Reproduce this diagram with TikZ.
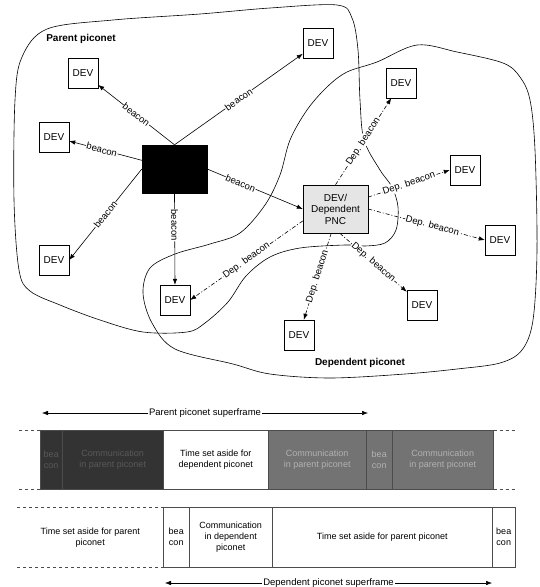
\documentclass[tikz,border=0pt]{standalone}
\usepackage{fontspec}
\setmainfont{Liberation Sans}
\usetikzlibrary{arrows.meta}

\begin{document}
\begin{tikzpicture}[
  x=1pt, y=-1pt,
  font=\fontsize{9.5}{11}\selectfont,
  >={Latex[length=6pt,width=4.5pt]},
  dev/.style={draw, minimum width=30pt, minimum height=30pt, inner sep=0pt,
              fill=white, font=\fontsize{10}{12}\selectfont},
  pncbox/.style={draw, minimum width=65pt, minimum height=48pt, inner sep=1pt,
              align=center, font=\fontsize{10}{11.5}\selectfont},
  bcn/.style={->, line width=0.6pt},
  depb/.style={->, line width=0.6pt, dash pattern=on 4pt off 2pt on 1pt off 2pt},
  lbl/.style={sloped, fill=white, inner sep=0.6pt},
  blob/.style={line width=0.6pt},
  netname/.style={font=\fontsize{10}{12}\selectfont\bfseries},
  slot/.style={draw=black!70, line width=0.5pt, minimum height=59pt, inner sep=1pt,
               align=center, anchor=north west, font=\fontsize{9}{11}\selectfont},
  dslot/.style={slot, fill=black!80, text=black!65},
  gslot/.style={slot, fill=black!55, text=black!30},
  ext/.style={dashed, black!70, line width=0.5pt},
]
\useasboundingbox (0,0) rectangle (540,587);

% ── piconet outlines ──
\draw[blob] plot[smooth cycle, tension=0.55] coordinates {
  (47,29) (113,20) (200,14) (270,8) (337,5) (352,18) (358,50) (360,100)
  (364,140) (380,170) (392,187) (398,207) (396,230) (385,243) (365,246)
  (345,245) (300,248) (270,257) (246,276) (228,302) (205,323) (187,332)
  (143,332) (100,320) (60,305) (30,291) (19,270) (14,200) (15,100) (22,57)};
\draw[blob] plot[smooth cycle, tension=0.55] coordinates {
  (307,110) (327,87) (347,72) (377,62) (417,45) (457,52) (503,63) (520,77)
  (530,100) (535,150) (537,250) (533,320) (522,350) (500,363) (457,369)
  (405,374) (330,378) (270,374) (233,364) (175,349) (152,323) (143,293)
  (150,268) (175,254) (210,244) (240,233) (265,205) (280,175) (290,140)};

\node[netname] (parentname) at (81,39) {Parent piconet};
\node[netname] (depname) at (360,363) {Dependent piconet};

% ── parent piconet ──
\node[pncbox, fill=black] (ppnc) at (174.5,169) {};
\node[dev] (devtl) at (83,73)  {DEV};
\node[dev] (devl)  at (54,137) {DEV};
\node[dev] (devbl) at (54,260) {DEV};
\node[dev] (devtr) at (318,43) {DEV};
\node[dev] (devmid) at (175,300) {DEV};

% ── dependent piconet ──
\node[pncbox, fill=black!10] (dpnc) at (335.5,209) {DEV/\\Dependent\\PNC};
\node[dev] (ddev1) at (401,83)  {DEV};
\node[dev] (ddev2) at (465,170) {DEV};
\node[dev] (ddev3) at (500,240) {DEV};
\node[dev] (ddev4) at (422,305) {DEV};
\node[dev] (ddev5) at (299,335) {DEV};

% ── beacons ──
\draw[bcn] (ppnc.north) -- node[lbl] {beacon} (devtl);
\draw[bcn] (ppnc) -- node[lbl, pos=.55] {beacon} (devl);
\draw[bcn] (ppnc.west) -- node[lbl] {beacon} (devbl.east);
\draw[bcn] (ppnc.north) -- node[lbl] {beacon} (devtr);
\draw[bcn] (ppnc.south) -- node[lbl, pos=.35] {beacon} (devmid.north);
\draw[bcn] (ppnc.east) -- node[lbl, pos=.35] {beacon} (dpnc.west);

\draw[depb] (dpnc.north) -- node[lbl] {Dep. beacon} (ddev1);
\draw[depb] (dpnc.20) -- node[lbl] {Dep. beacon} (ddev2.west);
\draw[depb] (dpnc.east) -- node[lbl, pos=.55] {Dep. beacon} (ddev3.west);
\draw[depb] (dpnc.-80) -- node[lbl] {Dep. beacon} (ddev4);
\draw[depb] (dpnc.-100) -- node[lbl] {Dep. beacon} (ddev5);
\draw[depb] (dpnc.200) -- node[lbl] {Dep. beacon} (devmid.east);

% ── parent superframe ──
\coordinate (psl) at (42,413);
\coordinate (psr) at (368,413);
\draw[<->, line width=0.5pt] (psl) -- (psr)
  node[midway, fill=white, inner sep=1pt] (pslabel) {Parent piconet superframe};

\node[dslot, minimum width=22pt]  (pb1) at (40,430)  {bea\\con};
\node[dslot, minimum width=101pt] (pc1) at (62,430)  {Communication\\in parent piconet};
\node[slot, minimum width=105pt]  (pt1) at (163,430) {Time set aside for\\dependent piconet};
\node[gslot, minimum width=98pt]  (pc2) at (268,430) {Communication\\in parent piconet};
\node[gslot, minimum width=26pt]  (pb2) at (366,430) {bea\\con};
\node[gslot, minimum width=101pt] (pc3) at (392,430) {Communication\\in parent piconet};
\draw[ext] (pb1.north west) -- ++(-23,0);
\draw[ext] (pb1.south west) -- ++(-23,0);
\draw[ext] (pc3.north east) -- ++(24,0);
\draw[ext] (pc3.south east) -- ++(24,0);

% ── dependent superframe ──
\node[slot, draw=none, minimum width=146pt, minimum height=60pt] (dt0) at (17,507)
  {Time set aside for parent\\piconet};
\draw[ext] (dt0.north west) -- (dt0.north east);
\draw[ext] (dt0.south west) -- (dt0.south east);
\node[slot, minimum width=26pt, minimum height=60pt]  (db1) at (163,507) {bea\\con};
\node[slot, minimum width=83pt, minimum height=60pt]  (dc1) at (189,507)
  {Communication\\in dependent\\piconet};
\node[slot, minimum width=220pt, minimum height=60pt] (dt1) at (272,507)
  {Time set aside for parent piconet};
\node[slot, minimum width=23pt, minimum height=60pt]  (db2) at (492,507) {bea\\con};

\coordinate (dsl) at (165,583);
\coordinate (dsr) at (492,583);
\draw[<->, line width=0.5pt] (dsl) -- (dsr)
  node[midway, fill=white, inner sep=1pt] (dslabel) {Dependent piconet superframe};

\end{tikzpicture}
\end{document}
